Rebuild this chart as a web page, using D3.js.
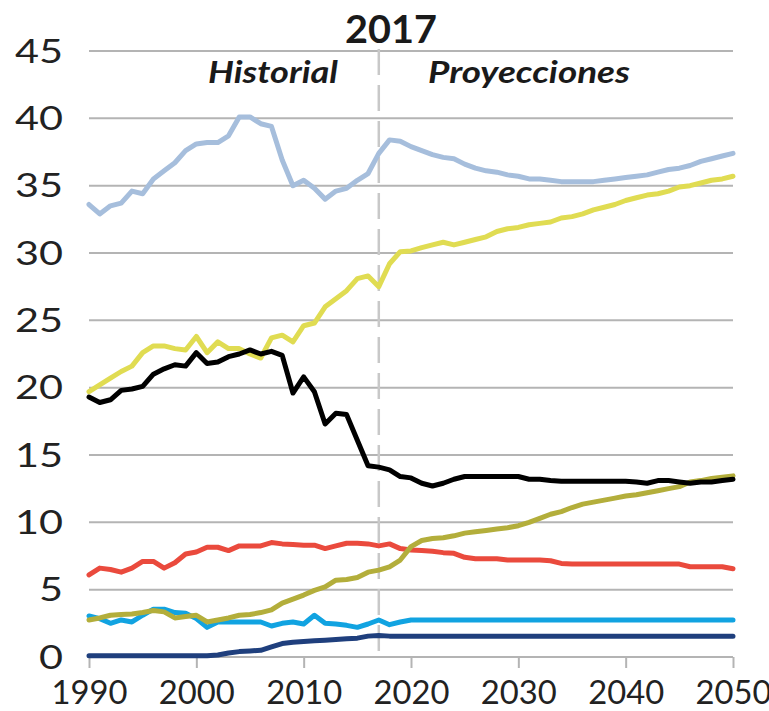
<!DOCTYPE html>
<html>
<head>
<meta charset="utf-8">
<script src="https://cdn.jsdelivr.net/npm/d3@7/dist/d3.min.js"></script>
<style>
  body { margin: 0; background: #fff; }
  svg { display: block; font-family: Lato, "Open Sans", sans-serif; }
</style>
</head>
<body>
<svg id="chart" width="769" height="711"></svg>
<script>
// Years 1990 - 2050
var years = d3.range(1990, 2051)
var yTicks = [0, 5, 10, 15, 20, 25, 30, 35, 40, 45]
var xTicks = [1990, 2000, 2010, 2020, 2030, 2040, 2050]
var splitYear = 2017

var lightBlue = [33.6, 32.9, 33.5, 33.7, 34.6, 34.4, 35.5, 36.1, 36.7, 37.6,
    38.1, 38.2, 38.2, 38.7, 40.1, 40.1, 39.6, 39.4, 36.9, 35.0,
    35.4, 34.8, 34.0, 34.6, 34.8, 35.4, 35.9, 37.4, 38.4, 38.3,
    37.9, 37.6, 37.3, 37.1, 37.0, 36.6, 36.3, 36.1, 36.0, 35.8,
    35.7, 35.5, 35.5, 35.4, 35.3, 35.3, 35.3, 35.3, 35.4, 35.5,
    35.6, 35.7, 35.8, 36.0, 36.2, 36.3, 36.5, 36.8, 37.0, 37.2,
    37.4]
var yellow = [19.7, 20.2, 20.7, 21.2, 21.6, 22.6, 23.1, 23.1, 22.9, 22.8,
    23.8, 22.6, 23.4, 22.9, 22.9, 22.5, 22.2, 23.7, 23.9, 23.4,
    24.6, 24.8, 26.0, 26.6, 27.2, 28.1, 28.3, 27.5, 29.2, 30.1,
    30.15, 30.4, 30.6, 30.8, 30.6, 30.8, 31.0, 31.2, 31.6, 31.8,
    31.9, 32.1, 32.2, 32.3, 32.6, 32.7, 32.9, 33.2, 33.4, 33.6,
    33.9, 34.1, 34.3, 34.4, 34.6, 34.9, 35.0, 35.2, 35.4, 35.5,
    35.7]
var black = [19.3, 18.9, 19.1, 19.8, 19.9, 20.1, 21.0, 21.4, 21.7, 21.6,
    22.6, 21.8, 21.9, 22.3, 22.5, 22.8, 22.5, 22.7, 22.4, 19.6,
    20.8, 19.7, 17.3, 18.1, 18.0, 16.1, 14.2, 14.1, 13.9, 13.4,
    13.3, 12.9, 12.7, 12.9, 13.2, 13.4, 13.4, 13.4, 13.4, 13.4,
    13.4, 13.2, 13.2, 13.1, 13.05, 13.05, 13.05, 13.05, 13.05, 13.05,
    13.05, 13.0, 12.9, 13.1, 13.1, 13.0, 12.9, 13.0, 13.0, 13.1,
    13.2]
var olive = [2.75, 2.9, 3.1, 3.15, 3.2, 3.3, 3.45, 3.35, 2.9, 3.0,
    3.1, 2.6, 2.75, 2.9, 3.1, 3.15, 3.3, 3.5, 4.0, 4.3,
    4.6, 4.95, 5.2, 5.7, 5.75, 5.9, 6.3, 6.45, 6.7, 7.2,
    8.2, 8.65, 8.8, 8.85, 9.0, 9.2, 9.3, 9.4, 9.5, 9.6,
    9.75, 10.0, 10.3, 10.6, 10.8, 11.1, 11.35, 11.5, 11.65, 11.8,
    11.95, 12.05, 12.2, 12.35, 12.5, 12.65, 13.0, 13.1, 13.25, 13.35,
    13.45]
var red = [6.1, 6.6, 6.5, 6.3, 6.6, 7.1, 7.1, 6.6, 7.0, 7.65,
    7.8, 8.15, 8.15, 7.9, 8.25, 8.25, 8.25, 8.5, 8.4, 8.35,
    8.3, 8.3, 8.05, 8.25, 8.45, 8.45, 8.4, 8.25, 8.4, 8.05,
    7.95, 7.9, 7.85, 7.75, 7.7, 7.4, 7.3, 7.3, 7.3, 7.2,
    7.2, 7.2, 7.2, 7.15, 6.95, 6.9, 6.9, 6.9, 6.9, 6.9,
    6.9, 6.9, 6.9, 6.9, 6.9, 6.9, 6.7, 6.7, 6.7, 6.7,
    6.55]
var cyan = [3.05, 2.85, 2.5, 2.75, 2.6, 3.1, 3.55, 3.55, 3.3, 3.25,
    2.85, 2.2, 2.6, 2.6, 2.6, 2.6, 2.6, 2.3, 2.5, 2.6,
    2.45, 3.1, 2.5, 2.45, 2.35, 2.2, 2.45, 2.75, 2.4, 2.6,
    2.75, 2.75, 2.75, 2.75, 2.75, 2.75, 2.75, 2.75, 2.75, 2.75,
    2.75, 2.75, 2.75, 2.75, 2.75, 2.75, 2.75, 2.75, 2.75, 2.75,
    2.75, 2.75, 2.75, 2.75, 2.75, 2.75, 2.75, 2.75, 2.75, 2.75,
    2.75]
var navy = [0.1, 0.1, 0.1, 0.1, 0.1, 0.1, 0.1, 0.1, 0.1, 0.1,
    0.1, 0.1, 0.15, 0.3, 0.4, 0.45, 0.5, 0.75, 1.0, 1.1,
    1.15, 1.2, 1.25, 1.3, 1.35, 1.4, 1.55, 1.6, 1.55, 1.55,
    1.55, 1.55, 1.55, 1.55, 1.55, 1.55, 1.55, 1.55, 1.55, 1.55,
    1.55, 1.55, 1.55, 1.55, 1.55, 1.55, 1.55, 1.55, 1.55, 1.55,
    1.55, 1.55, 1.55, 1.55, 1.55, 1.55, 1.55, 1.55, 1.55, 1.55,
    1.55]

// drawing order, last on top
var series = [
    {values: lightBlue, color: "#a6bedc"},
    {values: navy, color: "#1f3f7d"},
    {values: cyan, color: "#11a3e1"},
    {values: red, color: "#ea4a3d"},
    {values: olive, color: "#b3ae3b"},
    {values: yellow, color: "#e0dc52"},
    {values: black, color: "#000000"}
]

var svg = d3.select("#chart")
var gridColor = "#b4b4b4"
var textColor = "#222"

var x = d3.scaleLinear().domain([1990, 2050]).range([89, 733])
var y = d3.scaleLinear().domain([0, 45]).range([657, 51])

// horizontal gridlines (0 is the axis line)
svg.append("g")
    .selectAll("line")
    .data(yTicks)
    .enter().append("line")
    .attr("x1", x(1990))
    .attr("x2", x(2050))
    .attr("y1", d => y(d))
    .attr("y2", d => y(d))
    .style("stroke", gridColor)
    .style("stroke-width", "2px")

// y labels - the source font is wider than Lato, stretch to fit
svg.append("g")
    .selectAll("text")
    .data(yTicks)
    .enter().append("text")
    .attr("x", 63)
    .attr("y", d => y(d))
    .attr("dy", "0.36em")
    .attr("text-anchor", "end")
    .attr("textLength", d => String(d).length * 24)
    .attr("lengthAdjust", "spacingAndGlyphs")
    .style("font-size", "32px")
    .style("fill", textColor)
    .text(d => d)

// x axis ticks + labels
var xAxis = svg.append("g")
    .attr("transform", "translate(0," + y(0) + ")")
    .call(d3.axisBottom(x).tickValues(xTicks).tickFormat(d3.format("d")).tickSize(11).tickSizeOuter(0))
xAxis.select(".domain").remove()
xAxis.selectAll(".tick line")
    .style("stroke", gridColor)
    .style("stroke-width", "2px")
xAxis.selectAll(".tick text")
    .attr("y", 47)
    .attr("dy", "0")
    .attr("textLength", 76)
    .attr("lengthAdjust", "spacingAndGlyphs")
    .style("font-family", "Lato, sans-serif")
    .style("font-size", "32px")
    .style("fill", textColor)

// 2017 divider
svg.append("line")
    .attr("x1", x(splitYear))
    .attr("x2", x(splitYear))
    .attr("y1", y(45) - 2)
    .attr("y2", y(0))
    .style("stroke", "#c8c8c8")
    .style("stroke-width", "2.5px")
    .style("stroke-dasharray", "26,10")

var line = d3.line()
    .x((d, i) => x(years[i]))
    .y(d => y(d))

svg.append("g")
    .selectAll("path")
    .data(series)
    .enter().append("path")
    .attr("d", d => line(d.values))
    .style("fill", "none")
    .style("stroke", d => d.color)
    .style("stroke-width", "5px")
    .style("stroke-linejoin", "round")
    .style("stroke-linecap", "round")

// titles
svg.append("text")
    .attr("x", 391)
    .attr("y", 43)
    .attr("text-anchor", "middle")
    .attr("textLength", 92)
    .attr("lengthAdjust", "spacingAndGlyphs")
    .style("font-size", "38px")
    .style("font-weight", "bold")
    .style("fill", "#1a1a1a")
    .text("2017")

svg.append("text")
    .attr("x", 273)
    .attr("y", 83)
    .attr("text-anchor", "middle")
    .attr("textLength", 130)
    .attr("lengthAdjust", "spacingAndGlyphs")
    .style("font-size", "30px")
    .style("font-weight", "bold")
    .style("font-style", "italic")
    .style("fill", "#1a1a1a")
    .text("Historial")

svg.append("text")
    .attr("x", 529)
    .attr("y", 83)
    .attr("text-anchor", "middle")
    .attr("textLength", 202)
    .attr("lengthAdjust", "spacingAndGlyphs")
    .style("font-size", "30px")
    .style("font-weight", "bold")
    .style("font-style", "italic")
    .style("fill", "#1a1a1a")
    .text("Proyecciones")
</script>
</body>
</html>
